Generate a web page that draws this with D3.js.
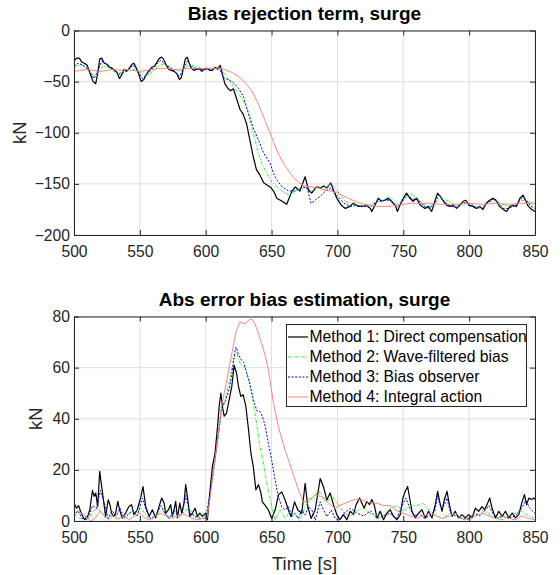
<!DOCTYPE html>
<html>
<head>
<meta charset="utf-8">
<script src="https://cdn.jsdelivr.net/npm/d3@7"></script>
<style>
	body { margin: 0; background: #fff; }
	svg { font-family: "Liberation Sans", Arial, Helvetica, sans-serif; }
</style>
</head>
<body>
<div id="chart"></div>
<script>
// time axis + ticks
var timeTicks = [500, 550, 600, 650, 700, 750, 800, 850];
var biasTicks = [0, -50, -100, -150, -200];
var errTicks = [0, 20, 40, 60, 80];

var legendNames = ['Method 1: Direct compensation', 'Method 2: Wave-filtered bias',
	'Method 3: Bias observer', 'Method 4: Integral action'];

// top panel: bias rejection term [t, kN]
var m1Bias = [[500,-30],[502,-27],[504,-27],[506,-31],[508,-32],[510,-34],[512.5,-43],[514.5,-50],[516.5,-52],[518,-42],[519.5,-28],[521,-27],[523,-32],[525,-33],[527,-36],[529,-37],[531,-39],[533,-42],[534.5,-47],[536,-44],[538,-38],[540,-40],[542,-37],[544,-33],[545.5,-32],[547,-36],[549,-42],[551,-50],[553,-48],[555,-43],[557,-39],[559,-36],[561,-35],[563,-31],[565,-27],[566.5,-26],[568,-28],[570,-34],[572,-38],[574,-39],[576,-40],[578,-42],[580,-48],[581.5,-46],[583,-37],[584.5,-28],[586,-26],[587.5,-32],[589,-37],[591,-39],[593,-38],[595,-37],[597,-40],[599,-38],[601,-37],[603,-39],[605,-39],[607,-36],[609,-38],[611,-34],[612.5,-42],[614.5,-52],[617,-57],[619,-59],[621,-57],[623.5,-67],[626,-77],[628.5,-82],[631,-91],[633.5,-107],[636,-123],[638.5,-136],[641,-141],[644,-149],[646.5,-151],[649,-153],[651.5,-157],[654,-164],[658,-167],[661.5,-170],[663,-165],[665.5,-157],[668,-153],[671.5,-157],[675.5,-143],[678,-156],[680.5,-159],[684,-153],[687,-154],[689.5,-152],[692,-154],[695,-149],[697,-156],[699.5,-164],[703,-171],[706,-174],[709.5,-172],[712,-169],[716,-172],[720,-172],[722,-171],[725,-174],[726,-177],[728.5,-171],[731,-164],[733.5,-167],[736,-166],[738.5,-164],[741,-167],[744,-171],[745.5,-177],[747.5,-171],[750,-164],[752.5,-159],[755,-164],[757.5,-167],[760,-164],[763,-171],[766.5,-174],[769,-172],[771.5,-177],[774,-167],[776,-159],[778,-162],[780.5,-167],[783,-171],[785.5,-172],[788,-171],[790.5,-174],[793,-171],[795.5,-167],[797.5,-166],[800,-171],[803,-172],[805.5,-174],[808,-172],[810.5,-175],[813,-169],[815.5,-166],[818,-164],[820.5,-166],[823,-172],[826,-175],[828.5,-177],[831,-172],[833.5,-171],[836,-172],[838.5,-164],[841,-161],[843,-167],[845,-172],[847.5,-175],[850,-177]];
var m2Bias = [[500,-35],[503,-34],[506,-34],[510,-38],[513,-42],[516,-45],[519,-40],[522,-35],[526,-36],[530,-40],[534,-42],[538,-40],[542,-39],[546,-38],[550,-41],[554,-45],[557,-43],[560,-40],[564,-35],[568,-33],[572,-35],[576,-38],[580,-40],[584,-36],[588,-33],[592,-35],[596,-37],[600,-38],[604,-37],[608,-37],[611,-36],[614.5,-43],[620,-53],[625,-62],[630,-72],[632.5,-82],[635,-95],[637.5,-107],[640,-120],[642.5,-130],[646.5,-140],[650,-148],[655,-154],[660,-159],[663.5,-161],[668,-157],[673,-154],[677,-154],[680.5,-157],[685.5,-153],[690.5,-156],[695,-149],[700,-157],[705,-166],[710,-170],[715,-171],[720,-172],[725,-170],[730,-168],[735,-166],[739,-162],[745,-170],[750,-164],[755,-160],[760,-163],[765,-170],[770,-172],[775,-168],[778,-163],[782,-165],[786,-168],[790,-172],[795,-170],[800,-168],[805,-172],[810,-173],[815,-168],[820,-166],[825,-170],[830,-172],[835,-170],[840,-166],[845,-168],[850,-168]];
var m3Bias = [[500,-35],[503,-32],[507,-34],[511,-38],[515,-47],[518,-40],[521,-30],[525,-33],[530,-38],[535,-43],[540,-39],[545,-34],[548,-39],[552,-47],[556,-42],[560,-37],[563,-33],[566,-29],[570,-34],[575,-38],[580,-45],[583,-38],[586,-30],[590,-36],[595,-38],[600,-38],[605,-38],[610,-36],[613.5,-46],[617,-48],[621,-51],[625,-57],[628.5,-64],[631,-75],[633.5,-85],[636,-95],[640,-107],[644,-120],[649,-130],[651.5,-140],[654,-146],[658,-153],[663,-157],[668,-157],[673,-153],[677,-154],[680,-169],[683,-166],[687,-162],[691,-157],[695,-154],[700,-162],[705,-169],[710,-172],[715,-171],[720,-172],[725,-173],[730,-167],[735,-166],[740,-166],[745,-173],[750,-166],[753,-161],[757,-165],[761,-165],[766,-172],[770,-174],[774,-168],[777,-161],[781,-167],[786,-172],[790,-173],[795,-168],[800,-170],[805,-173],[810,-174],[814,-168],[818,-165],[822,-168],[826,-174],[830,-174],[835,-171],[840,-164],[843,-165],[847,-172],[850,-174]];
var m4Bias = [[500,-40],[505,-39],[510,-38],[515,-39],[520,-40],[525,-39],[530,-38],[535,-39],[540,-38],[545,-39],[550,-40],[555,-39],[560,-38],[565,-37],[570,-37],[575,-38],[580,-38],[585,-37],[590,-37],[595,-37],[600,-37],[605,-37],[610,-37],[614,-38],[620,-41],[625,-45],[630,-51],[635,-59],[640,-72],[645,-88],[650,-104],[655,-120],[660,-132],[665,-141],[670,-148],[675,-152],[680,-153],[685,-154],[690,-156],[695,-157],[700,-159],[705,-162],[710,-165],[715,-168],[720,-170],[725,-171],[730,-172],[735,-172],[740,-172],[745,-171],[750,-170],[755,-169],[760,-169],[770,-169],[780,-170],[790,-170],[800,-169],[810,-170],[820,-169],[830,-170],[840,-169],[850,-169]];

// bottom panel: abs error [t, kN]
var m1Err = [[500,7],[502,5],[503.5,6],[505.5,3],[508,0.5],[510.5,2],[512,4.4],[514,12],[515.3,9.6],[516.5,11],[518,5.7],[519.5,19.4],[521,13.5],[523,5.7],[524,1.8],[526,8.3],[527.3,6.4],[528.5,3.1],[530.3,1.8],[531.6,3.1],[533.3,7.7],[534.6,4.4],[536.6,1.2],[539.2,3.1],[541.7,5.7],[543.7,6.4],[545.5,2.5],[548,4.4],[550.6,9],[552.4,13.5],[554.4,5.7],[557,1.8],[559.5,4.4],[562,1.2],[564.6,5.7],[566.6,9],[568.4,7],[569.6,3.1],[571.7,4.4],[573.4,6.4],[574.7,1.8],[576,4.4],[577.2,7.7],[578.5,1.2],[580.3,7],[581.8,3.1],[583.5,7],[584.8,14.2],[586.4,8.3],[587.9,1.8],[589.9,3.1],[592,5],[593.7,1.8],[595.5,3.1],[597.5,1.8],[600,3.1],[601.3,0.5],[603.1,11],[605.1,21.4],[607.1,26.6],[609,37],[610.2,44.8],[611.5,50],[612.7,44.8],[614,41],[615.8,42.2],[617.8,47.4],[619.8,52.6],[621.6,61],[623.4,57.8],[624.9,52.6],[626.7,48.7],[628.4,49.4],[630.5,44.8],[632.5,35.7],[634.3,26.6],[636.1,21.4],[638.1,12.2],[640.1,14.2],[641.9,11],[643,7.5],[645,6.2],[647.6,4.3],[650.1,1],[652.7,4.3],[655.2,10.2],[657.7,11.4],[660.3,8.2],[662.8,4.3],[664.8,1.7],[667.4,7.5],[669.9,4.3],[672.9,3],[675.5,14.7],[677.5,5.6],[680,1],[683.1,4.3],[686.9,16.6],[689.4,13.4],[692,8.2],[694.4,11],[697,6.4],[699.5,2.5],[702,0.5],[704.6,2.5],[707.1,0.5],[709.7,3.8],[712.2,2.5],[714.2,6.4],[716.8,9],[718.5,7],[720.3,5],[722.3,7.7],[724.4,6.4],[726.1,8.4],[727.9,6.4],[730,1.2],[732.5,3.8],[735,0.5],[737.6,3.1],[740.1,4.4],[742.6,1.8],[745.2,0.5],[747.7,2.5],[749.7,9],[751.5,11.6],[753.3,13.5],[754.8,9],[756.6,3.8],[759.1,1.2],[761.6,3.1],[764.2,4.4],[766.7,1.2],[769.2,3.8],[771.8,1.2],[774.3,6.4],[776.1,11.6],[777.6,7.7],[779.4,3.8],[781.2,8.4],[783.2,11.6],[785,6.4],[787,1.8],[789.5,3.8],[792,1.2],[794.6,2.5],[797.1,1.2],[799.6,2.5],[802.2,1.2],[804.7,5],[807.2,3.8],[809.8,5.6],[811.6,4.4],[813.6,6.4],[815.6,9],[817.4,5],[820,1.2],[822.5,3.8],[825,1.8],[827.6,3.8],[830.1,1.2],[832.7,3.1],[835.2,1.2],[837.7,2.5],[840.3,7.7],[842,10.3],[843.6,6.4],[845.4,9],[847.1,8.4],[849.2,9],[850,8.4]];
var m2Err = [[500,3],[502.5,1.5],[505,1],[508,2],[511,1],[515,4],[518,5],[521,3],[524,1],[527,2],[530,2],[533,0.5],[536,1],[540,2],[544,4],[547,3],[551,5],[555,2],[559,0.5],[562,2],[566,4],[569,4],[572,1],[576,3],[580,1],[584,4],[587,5],[590,3],[593,1],[596,2],[598,3],[600,1],[603,8],[606,20],[609,30],[612,43],[615,48],[618,55],[620,60],[622,65],[623.5,66],[625,63],[627,61],[630,60],[632,56],[635,50],[638,40],[641,30],[644,22],[647,13],[650,6],[652.7,0.3],[656.5,4.3],[660.3,1],[664,3.7],[667.9,2.3],[671.7,0.3],[675.5,5.6],[679.3,8.2],[683.1,9.5],[685.6,12],[688.2,10],[692,7.5],[695.8,9.5],[700,7],[705,3],[710,2],[715,4],[720,5],[725,3],[730,2],[735,2],[740,5],[745,6],[750,4],[755,6],[760,6],[765,7],[770,4],[775,2],[780,1],[785,3],[790,2],[795,0.5],[800,1],[805,2],[810,4],[815,3],[820,1],[825,0.5],[830,2],[835,3],[840,4],[845,2],[850,1]];
var m3Err = [[500,2],[503,4],[506,1],[510,0.5],[514,6],[517,5],[520,12],[523,7],[526,1],[529,4],[532,2],[535,5],[538,1],[542,3],[545,4],[548,2],[552,9],[555,4],[558,1],[562,2],[566,6],[569,3],[572,1],[576,4],[580,2],[582,3],[585,10],[588,3],[592,2],[596,1],[600,1],[603,10],[606,20],[609,32],[612,44],[615,47],[618,52],[620,58],[622,66],[623,68],[625,65],[627,63],[629,62],[631,58],[633,55],[635,50],[637,46],[639,43],[641,43],[643,41],[645,37.5],[647.6,30.3],[650.1,23.8],[652.7,16],[655.2,9.5],[657.7,5.6],[660.3,4.3],[662.8,5.6],[665.3,1.7],[667.9,3],[670.4,1],[672.9,4.3],[675.5,2.3],[678,5.6],[680.6,4.3],[683.1,0.3],[686.9,7.5],[689.4,4.3],[692,1.7],[695.3,4.3],[698.3,1],[700.9,0.3],[705,3],[710,5],[715,3],[720,2],[725,4],[730,1],[735,2],[740,3],[745,1],[750,7],[752,9],[755,5],[758,2],[762,3],[766,1],[770,2],[774,4],[776,10],[778,6],[781,6],[783,9],[786,3],[790,2],[795,1],[800,1],[804,3],[808,2],[812,4],[815,6],[818,3],[822,1],[826,2],[830,1],[835,2],[840,5],[843,8],[846,5],[850,3]];
var m4Err = [[500,3],[503,4],[506,3],[510,1],[513,0],[516,1],[520,4],[523,2],[526,0.5],[530,2],[534,1],[538,2],[542,0.5],[546,2],[550,3],[554,1],[558,0.5],[562,2],[566,3],[570,2],[574,1],[578,2],[582,3],[586,2],[590,1],[594,0.5],[598,1],[601,1],[603,8],[606,20],[609,32],[612,45],[616,55],[620,66],[623,74],[626,77.8],[628,77.5],[630,77.1],[633.7,79.1],[636,78.5],[639,75],[642.5,69.3],[645,65],[647.6,59],[651.5,46],[655.2,36.8],[660.3,27.7],[665.3,20],[670.5,12],[674.3,7.5],[678.1,8.2],[683.1,10.2],[688.2,9.5],[693.3,6.9],[698.3,5],[702,6.2],[706,7],[710,8],[715,8.5],[720,8],[725,7],[730,7],[735,6],[740,6],[745,4],[750,3],[755,2],[760,1],[765,2],[770,3],[775,2],[780,1],[785,2],[790,3],[795,1],[800,0.5],[805,2],[810,3],[815,2],[820,1],[825,2],[830,1],[835,0.5],[840,2],[845,1],[850,0.5]];

var styles = [
	{color: '#000000', width: 1.2, dash: null},
	{color: '#00ee00', width: 0.85, dash: '3,1.5,1,1.5'},
	{color: '#0000ff', width: 1.0, dash: '2,1.6'},
	{color: '#ff7777', width: 0.9, dash: null}
];

var axisColor = '#262626';
var gridColor = '#dfdfdf';
var tickFont = '15.7px';

var svg = d3.select('#chart').append('svg')
	.attr('width', 560)
	.attr('height', 575);

function drawPanel(cfg){
	var x = d3.scaleLinear().domain([500, 850]).range([cfg.left, cfg.right]);
	var y = d3.scaleLinear().domain(cfg.yDomain).range([cfg.bottom, cfg.top]);
	var g = svg.append('g');

	g.append('clipPath').attr('id', cfg.id + '-clip')
		.append('rect')
		.attr('x', cfg.left).attr('y', cfg.top)
		.attr('width', cfg.right - cfg.left)
		.attr('height', cfg.bottom - cfg.top);

	//grid
	g.selectAll('line.vgrid').data(timeTicks).enter().append('line')
		.attr('class', 'vgrid')
		.attr('x1', d => x(d)).attr('x2', d => x(d))
		.attr('y1', cfg.top).attr('y2', cfg.bottom)
		.attr('stroke', gridColor).attr('stroke-width', 1);
	g.selectAll('line.hgrid').data(cfg.yTicks).enter().append('line')
		.attr('class', 'hgrid')
		.attr('x1', cfg.left).attr('x2', cfg.right)
		.attr('y1', d => y(d)).attr('y2', d => y(d))
		.attr('stroke', gridColor).attr('stroke-width', 1);

	//series
	var line = d3.line().x(d => x(d[0])).y(d => y(d[1]));
	var plot = g.append('g').attr('clip-path', 'url(#' + cfg.id + '-clip)');
	cfg.series.forEach(function(s, i){
		plot.append('path')
			.datum(s)
			.attr('d', line)
			.attr('fill', 'none')
			.attr('stroke', styles[i].color)
			.attr('stroke-width', styles[i].width)
			.attr('stroke-dasharray', styles[i].dash)
			.attr('stroke-linejoin', 'round');
	});

	//axes, ticks inward on all four sides
	var axes = [
		{a: d3.axisBottom(x).tickValues(timeTicks).tickPadding(11), t: 'translate(0,' + cfg.bottom + ')'},
		{a: d3.axisTop(x).tickValues(timeTicks).tickFormat(''), t: 'translate(0,' + cfg.top + ')'},
		{a: d3.axisLeft(y).tickValues(cfg.yTicks).tickPadding(4), t: 'translate(' + cfg.left + ',0)'},
		{a: d3.axisRight(y).tickValues(cfg.yTicks).tickFormat(''), t: 'translate(' + cfg.right + ',0)'}
	];
	axes.forEach(function(ax){
		var ag = g.append('g')
			.attr('transform', ax.t)
			.call(ax.a.tickSize(-5).tickSizeOuter(0));
		ag.select('.domain').attr('stroke', axisColor).attr('stroke-width', 1);
		ag.selectAll('.tick line').attr('stroke', axisColor);
		ag.selectAll('.tick text')
			.attr('fill', axisColor)
			.style('font-size', tickFont);
	});

	g.append('text')
		.attr('x', (cfg.left + cfg.right) / 2)
		.attr('y', cfg.top - 11)
		.attr('text-anchor', 'middle')
		.style('font-size', '19px')
		.style('font-weight', 'bold')
		.attr('fill', '#000')
		.text(cfg.title);

	g.append('text')
		.attr('transform', 'translate(' + cfg.ylabelX + ',' + (cfg.top + cfg.bottom) / 2 + ') rotate(-90)')
		.attr('dy', '0.35em')
		.attr('text-anchor', 'middle')
		.style('font-size', '18.5px')
		.attr('fill', axisColor)
		.text('kN');

	return {x: x, y: y, g: g};
}

drawPanel({
	id: 'bias', left: 74, right: 535, top: 30.5, bottom: 235,
	yDomain: [-200, 0], yTicks: biasTicks, ylabelX: 20,
	title: 'Bias rejection term, surge',
	series: [m1Bias, m2Bias, m3Bias, m4Bias]
});

var bottom = drawPanel({
	id: 'err', left: 74, right: 535, top: 316.5, bottom: 521,
	yDomain: [0, 80], yTicks: errTicks, ylabelX: 36,
	title: 'Abs error bias estimation, surge',
	series: [m1Err, m2Err, m3Err, m4Err]
});

bottom.g.append('text')
	.attr('x', (74 + 535) / 2)
	.attr('y', 570)
	.attr('text-anchor', 'middle')
	.style('font-size', '18.5px')
	.attr('fill', axisColor)
	.text('Time [s]');

//legend
var legend = bottom.g.append('g');
legend.append('rect')
	.attr('x', 286.5).attr('y', 324.5)
	.attr('width', 240).attr('height', 82)
	.attr('fill', '#fff')
	.attr('stroke', axisColor).attr('stroke-width', 1);
legendNames.forEach(function(name, i){
	var ly = 337 + 20 * i;
	legend.append('line')
		.attr('x1', 288).attr('x2', 308)
		.attr('y1', ly).attr('y2', ly)
		.attr('stroke', styles[i].color)
		.attr('stroke-width', styles[i].width)
		.attr('stroke-dasharray', styles[i].dash);
	legend.append('text')
		.attr('x', 309.5).attr('y', ly)
		.attr('dy', '0.35em')
		.style('font-size', tickFont)
		.attr('fill', '#000')
		.text(name);
});
</script>
</body>
</html>
